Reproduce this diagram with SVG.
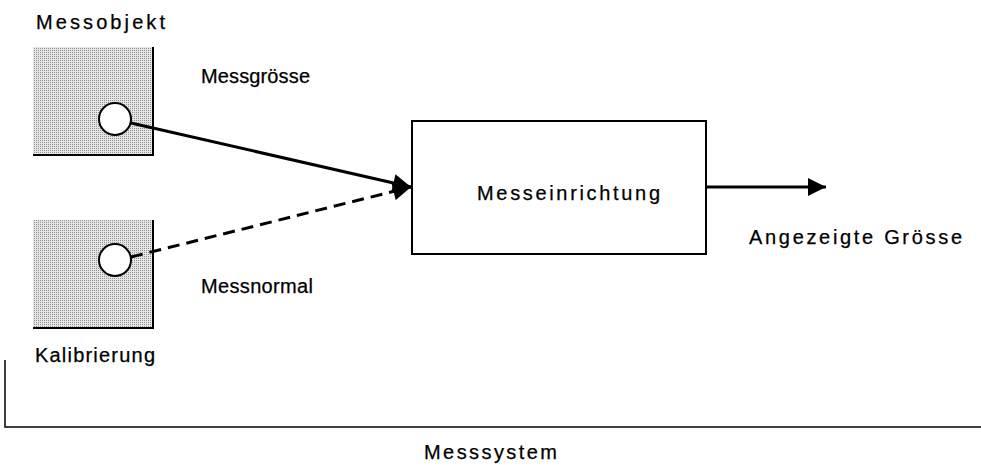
<svg xmlns="http://www.w3.org/2000/svg" width="981" height="469" viewBox="0 0 981 469">
  <style>
    text { font-family: "Liberation Sans", Arial, sans-serif; font-size: 20px; fill: #000; stroke: #000; stroke-width: 0.25; }
    .src { fill: url(#stipple); }
    .edge { stroke: #000; stroke-width: 2; fill: none; }
    .port { fill: #fff; stroke: #000; stroke-width: 2; }
    .block { fill: #fff; stroke: #000; stroke-width: 2; }
    .flow { stroke: #000; stroke-width: 3; fill: none; }
    .dash { stroke-dasharray: 12 7; }
    .frame { stroke: #000; stroke-width: 1.5; fill: none; }
  </style>
  <defs>
    <pattern id="stipple" width="2" height="2" patternUnits="userSpaceOnUse">
      <rect width="2" height="2" fill="#e6e6e6"/>
      <rect width="1" height="1" fill="#909090"/>
    </pattern>
    <marker id="head" viewBox="0 0 10 10" refX="10" refY="5" markerWidth="6.5" markerHeight="6" markerUnits="strokeWidth" orient="auto">
      <path d="M0,0 L10,5 L0,10 Z" fill="#000"/>
    </marker>
  </defs>

  <rect width="981" height="469" fill="#fff"/>

  <!-- measured object -->
  <g id="messobjekt">
    <text x="36" y="29" textLength="129" lengthAdjust="spacing">Messobjekt</text>
    <rect class="src" x="33" y="47" width="120" height="108"/>
    <path class="edge" d="M153,47 V155 H33"/>
    <circle class="port" cx="115" cy="119" r="16"/>
    <text x="201" y="83" textLength="109" lengthAdjust="spacing">Messgrösse</text>
  </g>

  <!-- calibration standard -->
  <g id="kalibrierung">
    <rect class="src" x="33" y="220" width="120" height="108"/>
    <path class="edge" d="M153,220 V328 H33"/>
    <circle class="port" cx="115" cy="260" r="16"/>
    <text x="201" y="293" textLength="112" lengthAdjust="spacing">Messnormal</text>
    <text x="35" y="362" textLength="120" lengthAdjust="spacing">Kalibrierung</text>
  </g>

  <!-- measuring instrument -->
  <g id="messeinrichtung">
    <rect class="block" x="412" y="121" width="294" height="133"/>
    <text x="477" y="200" textLength="183" lengthAdjust="spacing">Messeinrichtung</text>
  </g>

  <!-- indicated value -->
  <g id="anzeige">
    <text x="749" y="244" textLength="213" lengthAdjust="spacing">Angezeigte Grösse</text>
  </g>

  <!-- system boundary -->
  <g id="messsystem">
    <path class="frame" d="M5,360 V427 H981"/>
    <text x="424" y="459" textLength="133" lengthAdjust="spacing">Messsystem</text>
  </g>

  <g id="connectors">
    <line class="flow" x1="131" y1="123" x2="411" y2="187" marker-end="url(#head)"/>
    <line class="flow dash" x1="131" y1="257" x2="411" y2="187" marker-end="url(#head)"/>
    <line class="flow" x1="706" y1="187" x2="826" y2="187" marker-end="url(#head)"/>
  </g>
</svg>
